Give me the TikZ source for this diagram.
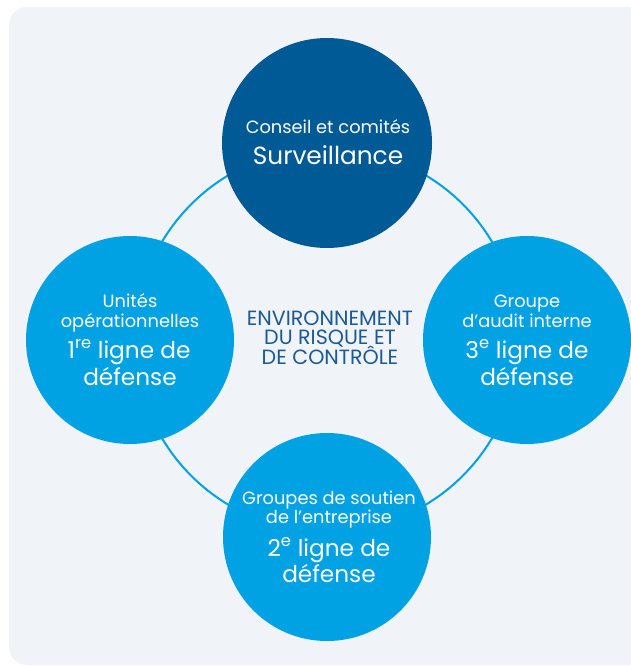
\documentclass[tikz,border=0pt]{standalone}
\usepackage{fontspec}
\setmainfont{Poppins}
\definecolor{bgc}{HTML}{F0F3F7}
\definecolor{darkb}{HTML}{005A96}
\definecolor{lightb}{HTML}{00A2E3}
\definecolor{midtext}{HTML}{1A5A97}
\newcommand{\tightlines}{\lineskiplimit=-20pt\relax\lineskip=0pt\relax}
\tikzset{
  bigcircle/.style={circle, minimum size=#1, inner sep=0pt},
  small/.style={anchor=base, text=white, font=\fontsize{17.8}{20}\selectfont, inner sep=0pt},
  large/.style={anchor=base, text=white, font=\fontsize{23.2}{27}\selectfont, inner sep=0pt},
  center/.style={text=midtext, font=\fontsize{20.6}{19.6}\selectfont\tightlines, inner sep=0pt, align=center},
}
\begin{document}
\begin{tikzpicture}[x=1pt,y=-1pt]
\useasboundingbox (0,0) rectangle (631,666);
\clip (0,0) rectangle (631,666);
\fill[bgc, rounded corners=18pt] (9,7) rectangle (680,665);
\node[circle, draw=lightb, line width=2pt, minimum size=384pt, inner sep=0pt] (ring) at (327,340) {};
\node[bigcircle=210pt, fill=darkb] (top) at (327,143) {};
\node[bigcircle=208pt, fill=lightb] (left) at (130,340) {};
\node[bigcircle=208pt, fill=lightb] (right) at (527,340) {};
\node[bigcircle=208pt, fill=lightb] (bottom) at (327,537) {};
% top
\node[small] (ta) at (328,133) {Conseil et comités};
\node[large, font=\fontsize{24.8}{28}\selectfont] (tb) at (328,164) {Surveillance};
% left
\node[small] (la) at (130,307) {Unités};
\node[small] (lb) at (130,327) {opérationnelles};
\node[large] (lc) at (129,358) {1\textsuperscript{re} ligne de};
\node[large] (ld) at (130,385) {défense};
% right
\node[small] (ra) at (527,307) {Groupe};
\node[small] (rb) at (527,327) {d’audit interne};
\node[large] (rc) at (527,358) {3\textsuperscript{e} ligne de};
\node[large] (rd) at (527,385) {défense};
% bottom
\node[small] (ba) at (329,504) {Groupes de soutien};
\node[small] (bb) at (329,523) {de l’entreprise};
\node[large] (bc) at (329,556) {2\textsuperscript{e} ligne de};
\node[large] (bd) at (329,582) {défense};
% center
\node[center, anchor=base] (ctext) at (330,364.5) {ENVIRONNEMENT\\DU RISQUE ET\\DE CONTRÔLE};
\end{tikzpicture}
\end{document}
